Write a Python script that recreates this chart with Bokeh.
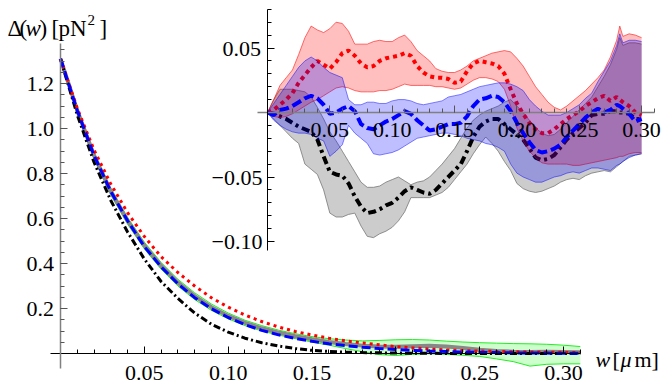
from bokeh.plotting import figure
from bokeh.models import (ColumnDataSource, FixedTicker, PrintfTickFormatter,
                          CustomJSTickFormatter, Range1d, Label, LinearAxis)
from bokeh.embed import file_html
from bokeh.resources import INLINE

FONT = "Liberation Serif"
W, H = 661, 390

# ---------------- main panel data ----------------
w_main = [0.00, 0.01, 0.02, 0.03, 0.04, 0.05, 0.06, 0.07, 0.08, 0.09,
          0.10, 0.11, 0.12, 0.13, 0.14, 0.15, 0.16, 0.17, 0.18, 0.19,
          0.20, 0.21, 0.22, 0.23, 0.24, 0.25, 0.26, 0.27, 0.28, 0.29,
          0.30, 0.31]
delta_data = [1.31, 1.08, 0.88, 0.72, 0.59, 0.48, 0.39, 0.315, 0.255, 0.206,
              0.167, 0.136, 0.112, 0.093, 0.077, 0.063, 0.051, 0.042, 0.035, 0.031,
              0.030, 0.032, 0.034, 0.031, 0.025, 0.017, 0.011, 0.008, 0.007, 0.008,
              0.007, 0.006]
band_hi = [1.31, 1.09, 0.895, 0.735, 0.605, 0.495, 0.405, 0.33, 0.27, 0.22,
           0.18, 0.148, 0.124, 0.104, 0.088, 0.075, 0.066, 0.060, 0.056, 0.058,
           0.061, 0.062, 0.060, 0.055, 0.051, 0.048, 0.046, 0.044, 0.043, 0.041,
           0.037, 0.031]
band_lo = [1.31, 1.07, 0.865, 0.705, 0.575, 0.465, 0.375, 0.30, 0.24, 0.192,
           0.154, 0.124, 0.100, 0.082, 0.066, 0.051, 0.037, 0.022, 0.008, -0.005,
           -0.009, -0.004, -0.001, -0.004, -0.008, -0.013, -0.024, -0.036, -0.056, -0.048,
           -0.046, -0.046]
fit_red = [1.31, 1.09, 0.905, 0.753, 0.626, 0.52, 0.43, 0.36, 0.30, 0.248,
           0.206, 0.171, 0.142, 0.118, 0.098, 0.082, 0.068, 0.056, 0.047, 0.039,
           0.030, 0.025, 0.020, 0.016, 0.013, 0.011, 0.009, 0.008, 0.007, 0.006,
           0.005, 0.005]
fit_blue = [1.31, 1.08, 0.88, 0.72, 0.59, 0.475, 0.385, 0.31, 0.248, 0.199,
            0.16, 0.128, 0.103, 0.083, 0.067, 0.054, 0.043, 0.035, 0.028, 0.022,
            0.018, 0.014, 0.011, 0.009, 0.007, 0.005, 0.004, 0.003, 0.002, 0.002,
            0.001, 0.001]
fit_black = [1.31, 1.06, 0.85, 0.68, 0.54, 0.42, 0.32, 0.245, 0.18, 0.13,
             0.095, 0.068, 0.048, 0.033, 0.022, 0.014, 0.009, 0.006, 0.004, 0.003,
             0.002, 0.001, 0.001, 0.0, 0.0, 0.0, 0.0, 0.0, 0.0, 0.0,
             0.0, 0.0]

main_xticks = [0.05, 0.10, 0.15, 0.20, 0.25, 0.30]
main_xminor = [0.01, 0.02, 0.03, 0.04, 0.05, 0.06, 0.07, 0.08, 0.09, 0.10,
               0.11, 0.12, 0.13, 0.14, 0.15, 0.16, 0.17, 0.18, 0.19, 0.20,
               0.21, 0.22, 0.23, 0.24, 0.25, 0.26, 0.27, 0.28, 0.29, 0.30, 0.31]
main_yticks = [0.2, 0.4, 0.6, 0.8, 1.0, 1.2]
main_yminor = [0.05, 0.10, 0.15, 0.20, 0.25, 0.30, 0.35, 0.40, 0.45, 0.50,
               0.55, 0.60, 0.65, 0.70, 0.75, 0.80, 0.85, 0.90, 0.95, 1.00,
               1.05, 1.10, 1.15, 1.20, 1.25, 1.30, 1.35]

# ---------------- inset data ----------------
w_in = [0.000, 0.005, 0.010, 0.015, 0.020, 0.025, 0.030, 0.035, 0.040, 0.045,
        0.050, 0.055, 0.060, 0.065, 0.070, 0.075, 0.080, 0.085, 0.090, 0.095,
        0.100, 0.105, 0.110, 0.115, 0.120, 0.125, 0.130, 0.135, 0.140, 0.145,
        0.150, 0.155, 0.160, 0.165, 0.170, 0.175, 0.180, 0.185, 0.190, 0.195,
        0.200, 0.205, 0.210, 0.215, 0.220, 0.225, 0.230, 0.235, 0.240, 0.245,
        0.250, 0.255, 0.260, 0.265, 0.270, 0.275, 0.280, 0.2825, 0.285, 0.290,
        0.295, 0.300]
red_mid = [0.000, 0.002, 0.006, 0.010, 0.015, 0.023, 0.029, 0.035, 0.040, 0.037,
           0.034, 0.039, 0.046, 0.048, 0.044, 0.038, 0.035, 0.036, 0.040, 0.042,
           0.043, 0.044, 0.046, 0.044, 0.036, 0.031, 0.028, 0.027, 0.027, 0.026,
           0.023, 0.024, 0.032, 0.038, 0.040, 0.039, 0.038, 0.036, 0.030, 0.018,
           0.007, -0.001, -0.008, -0.013, -0.016, -0.016, -0.013, -0.009, -0.005, -0.002,
           0.001, 0.005, 0.008, 0.011, 0.013, 0.009, 0.012, 0.010, 0.008, 0.005,
           0.000, -0.002]
red_hi = [0.000, 0.010, 0.021, 0.027, 0.033, 0.045, 0.058, 0.067, 0.064, 0.062,
          0.065, 0.070, 0.069, 0.063, 0.053, 0.053, 0.053, 0.055, 0.056, 0.055,
          0.055, 0.058, 0.060, 0.055, 0.048, 0.044, 0.040, 0.034, 0.032, 0.031,
          0.031, 0.033, 0.036, 0.040, 0.042, 0.044, 0.046, 0.047, 0.048, 0.047,
          0.042, 0.036, 0.028, 0.020, 0.014, 0.008, 0.004, 0.002, 0.005, 0.009,
          0.013, 0.017, 0.022, 0.027, 0.033, 0.043, 0.056, 0.067, 0.059, 0.061,
          0.060, 0.058]
red_lo = [0.000, -0.003, -0.004, -0.003, -0.001, 0.002, 0.005, 0.008, 0.010, 0.013,
          0.016, 0.019, 0.020, 0.019, 0.017, 0.016, 0.016, 0.016, 0.017, 0.017,
          0.018, 0.020, 0.022, 0.021, 0.021, 0.021, 0.021, 0.020, 0.020, 0.019,
          0.018, 0.019, 0.022, 0.025, 0.027, 0.027, 0.026, 0.024, 0.018, 0.005,
          -0.012, -0.022, -0.030, -0.035, -0.039, -0.040, -0.040, -0.040, -0.040, -0.041,
          -0.041, -0.040, -0.039, -0.038, -0.037, -0.036, -0.035, -0.034, -0.034, -0.032,
          -0.031, -0.031]
blue_mid = [0.000, -0.002, 0.002, 0.003, 0.005, 0.008, 0.011, 0.013, 0.011, 0.006,
            -0.001, 0.000, 0.003, 0.005, 0.001, -0.009, -0.012, -0.013, -0.010, -0.007,
            -0.005, -0.002, 0.001, -0.001, -0.006, -0.010, -0.014, -0.013, -0.011, -0.009,
            -0.009, -0.008, -0.003, 0.005, 0.010, 0.011, 0.013, 0.012, 0.008, 0.001,
            -0.008, -0.016, -0.023, -0.029, -0.031, -0.030, -0.028, -0.025, -0.019, -0.014,
            -0.009, -0.004, 0.000, 0.003, 0.000, 0.002, 0.006, 0.005, 0.003, -0.001,
            -0.007, -0.005]
blue_hi = [0.000, 0.007, 0.014, 0.021, 0.028, 0.035, 0.040, 0.043, 0.040, 0.035,
           0.031, 0.029, 0.027, 0.010, 0.006, 0.006, 0.008, 0.008, 0.007, 0.007,
           0.009, 0.010, 0.010, 0.009, 0.007, 0.006, 0.007, 0.008, 0.009, 0.012,
           0.013, 0.014, 0.016, 0.018, 0.020, 0.021, 0.022, 0.023, 0.023, 0.022,
           0.020, 0.017, 0.010, 0.005, 0.001, -0.002, -0.002, -0.002, 0.000, 0.003,
           0.006, 0.011, 0.015, 0.024, 0.032, 0.040, 0.052, 0.061, 0.054, 0.056,
           0.056, 0.055]
blue_lo = [0.000, -0.006, -0.010, -0.013, -0.015, -0.016, -0.016, -0.017, -0.020, -0.022,
           -0.034, -0.030, -0.025, -0.010, -0.016, -0.020, -0.024, -0.032, -0.033, -0.032,
           -0.031, -0.029, -0.026, -0.023, -0.020, -0.019, -0.018, -0.017, -0.016, -0.016,
           -0.017, -0.018, -0.020, -0.021, -0.022, -0.024, -0.025, -0.027, -0.030, -0.040,
           -0.047, -0.050, -0.052, -0.054, -0.054, -0.052, -0.050, -0.049, -0.047, -0.046,
           -0.047, -0.045, -0.043, -0.043, -0.044, -0.045, -0.041, -0.040, -0.038, -0.035,
           -0.033, -0.032]
black_mid = [0.000, -0.001, -0.003, -0.005, -0.008, -0.011, -0.013, -0.015, -0.021, -0.034,
             -0.046, -0.048, -0.049, -0.055, -0.065, -0.073, -0.078, -0.077, -0.075, -0.072,
             -0.070, -0.066, -0.061, -0.058, -0.060, -0.062, -0.063, -0.060, -0.055, -0.050,
             -0.045, -0.040, -0.030, -0.019, -0.011, -0.007, -0.005, -0.005, -0.009, -0.013,
             -0.017, -0.021, -0.028, -0.035, -0.037, -0.036, -0.033, -0.027, -0.021, -0.016,
             -0.012, -0.008, -0.002, -0.001, -0.001, 0.001, 0.001, 0.000, 0.000, -0.001,
             -0.005, -0.005]
gray_hi = [0.000, 0.010, 0.018, 0.018, 0.018, 0.017, 0.016, 0.012, 0.004, -0.005,
           -0.015, -0.022, -0.030, -0.038, -0.046, -0.054, -0.058, -0.058, -0.057, -0.054,
           -0.052, -0.050, -0.053, -0.056, -0.054, -0.053, -0.050, -0.045, -0.040, -0.034,
           -0.028, -0.020, -0.012, -0.006, -0.002, 0.001, 0.003, 0.005, 0.008, 0.010,
           0.005, 0.000, -0.006, -0.012, -0.016, -0.018, -0.017, -0.013, -0.008, -0.003,
           0.002, 0.007, 0.012, 0.020, 0.028, 0.037, 0.049, 0.058, 0.052, 0.054,
           0.054, 0.053]
gray_lo = [0.000, -0.005, -0.010, -0.015, -0.020, -0.024, -0.040, -0.044, -0.048, -0.060,
           -0.078, -0.081, -0.081, -0.079, -0.078, -0.088, -0.096, -0.097, -0.094, -0.092,
           -0.089, -0.084, -0.077, -0.066, -0.066, -0.066, -0.066, -0.064, -0.062, -0.058,
           -0.052, -0.046, -0.040, -0.032, -0.025, -0.019, -0.024, -0.030, -0.038, -0.045,
           -0.055, -0.059, -0.061, -0.062, -0.061, -0.059, -0.057, -0.054, -0.052, -0.051,
           -0.052, -0.049, -0.047, -0.046, -0.045, -0.046, -0.042, -0.040, -0.038, -0.034,
           -0.033, -0.032]

in_xticks = [0.05, 0.10, 0.15, 0.20, 0.25, 0.30]
in_xminor = [0.01, 0.02, 0.03, 0.04, 0.05, 0.06, 0.07, 0.08, 0.09, 0.10,
             0.11, 0.12, 0.13, 0.14, 0.15, 0.16, 0.17, 0.18, 0.19, 0.20,
             0.21, 0.22, 0.23, 0.24, 0.25, 0.26, 0.27, 0.28, 0.29, 0.30, 0.31]
in_yticks = [-0.10, -0.05, 0.05]
in_yminor = [-0.10, -0.09, -0.08, -0.07, -0.06, -0.05, -0.04, -0.03, -0.02, -0.01,
             0.01, 0.02, 0.03, 0.04, 0.05, 0.06, 0.07, 0.08]

# ---------------- one figure, main + inset (inset on extra ranges) ----------------
# The frame fills the whole canvas; every axis sits at a fixed data location.
p = figure(width=W, height=H, output_backend="svg", toolbar_location=None,
           x_range=Range1d(-0.035785, 0.358442), y_range=Range1d(-0.164444, 1.568889),
           x_axis_location="above", y_axis_location="right",
           min_border_left=0, min_border_right=0, min_border_top=0, min_border_bottom=0)
p.outline_line_color = None
p.grid.visible = False
p.extra_x_ranges = {"ix": Range1d(-0.214114, 0.315958)}
p.extra_y_ranges = {"iy": Range1d(-0.215504, 0.086822)}


def style_axis(ax, line_color, tick_color, line_width=1.0):
    ax.axis_line_color = line_color
    ax.axis_line_width = line_width
    ax.major_tick_line_color = tick_color
    ax.minor_tick_line_color = tick_color
    ax.major_label_text_font = FONT
    ax.major_label_text_font_size = "22px"
    ax.major_label_text_color = "black"


# main x axis (drawn at y = 0, labels pushed below the line)
xa = p.xaxis[0]
xa.fixed_location = 0
xa.bounds = (-0.006, 0.31)
xa.ticker = FixedTicker(ticks=main_xticks, minor_ticks=main_xminor)
xa.formatter = PrintfTickFormatter(format="%.2f")
xa.major_tick_in = 0
xa.major_tick_out = 7
xa.minor_tick_in = 0
xa.minor_tick_out = 4
xa.major_label_standoff = -33
style_axis(xa, "black", "black")

# main y axis (drawn at x = 0, labels pushed to the left of the line)
ya = p.yaxis[0]
ya.fixed_location = 0
ya.bounds = (-0.067, 1.378)
ya.ticker = FixedTicker(ticks=main_yticks, minor_ticks=main_yminor)
ya.formatter = PrintfTickFormatter(format="%.1f")
ya.major_tick_in = 0
ya.major_tick_out = 7
ya.minor_tick_in = 0
ya.minor_tick_out = 4
ya.major_label_standoff = -41
style_axis(ya, "#808080", "#555555", 1.5)

fmt_js = ("const s = Math.abs(tick).toFixed(2);"
          " return tick < 0 ? '\u2212' + s : '\u2002' + s;")

# inset x axis
ix = LinearAxis(x_range_name="ix", y_range_name="iy", fixed_location=0,
                bounds=(-0.008, 0.31),
                ticker=FixedTicker(ticks=in_xticks, minor_ticks=in_xminor),
                formatter=CustomJSTickFormatter(code=fmt_js.replace("'\u2002' + s", "s")),
                major_tick_in=0, major_tick_out=7, minor_tick_in=0, minor_tick_out=4,
                major_label_standoff=-31)
style_axis(ix, "#808080", "#555555", 1.5)
p.add_layout(ix, "above")

# inset y axis
iy = LinearAxis(x_range_name="ix", y_range_name="iy", fixed_location=0,
                bounds=(-0.107, 0.08),
                ticker=FixedTicker(ticks=in_yticks, minor_ticks=in_yminor),
                formatter=CustomJSTickFormatter(code=fmt_js),
                major_tick_in=0, major_tick_out=7, minor_tick_in=0, minor_tick_out=4,
                major_label_standoff=-63)
style_axis(iy, "black", "black")
p.add_layout(iy, "right")

# ---- main curves ----
msrc = ColumnDataSource(dict(w=w_main, data=delta_data, hi=band_hi, lo=band_lo,
                             red=fit_red, blue=fit_blue, black=fit_black))
p.varea(x="w", y1="lo", y2="hi", source=msrc, fill_color="#ccffcc", fill_alpha=1.0)
p.line(x="w", y="hi", source=msrc, line_color="#22ee22", line_width=1)
p.line(x="w", y="lo", source=msrc, line_color="#22ee22", line_width=1)
p.line(x="w", y="data", source=msrc, line_color="#888888", line_width=4)
p.line(x="w", y="black", source=msrc, line_color="black", line_width=3, line_dash="7 3 2 3")
p.line(x="w", y="red", source=msrc, line_color="#ff0000", line_width=3, line_dash="3 4")
p.line(x="w", y="blue", source=msrc, line_color="#0000ff", line_width=3, line_dash="9 4")

# ---- inset curves ----
isrc = ColumnDataSource(dict(w=w_in, rm=red_mid, rh=red_hi, rl=red_lo,
                             bm=blue_mid, bh=blue_hi, bl=blue_lo,
                             km=black_mid, gh=gray_hi, gl=gray_lo))
R = dict(source=isrc, x_range_name="ix", y_range_name="iy")
p.varea(x="w", y1="gl", y2="gh", fill_color="#7f7f7f", fill_alpha=0.4, **R)
p.line(x="w", y="gh", line_color="#777777", line_width=0.8, **R)
p.line(x="w", y="gl", line_color="#777777", line_width=0.8, **R)
p.line(x="w", y="km", line_color="black", line_width=4, line_dash="8 4 3 4", **R)
p.varea(x="w", y1="rl", y2="rh", fill_color="#ff0000", fill_alpha=0.25, **R)
p.line(x="w", y="rh", line_color="#ff0000", line_width=0.8, line_alpha=0.7, **R)
p.line(x="w", y="rl", line_color="#ff0000", line_width=0.8, line_alpha=0.7, **R)
p.line(x="w", y="rm", line_color="#ff0000", line_width=4, line_dash="4 4", **R)
p.varea(x="w", y1="bl", y2="bh", fill_color="#0000ff", fill_alpha=0.25, **R)
p.line(x="w", y="bh", line_color="#0000ff", line_width=0.8, line_alpha=0.6, **R)
p.line(x="w", y="bl", line_color="#0000ff", line_width=0.8, line_alpha=0.6, **R)
p.line(x="w", y="bm", line_color="#0000ff", line_width=4, line_dash="10 4", **R)


def add_text(fig, x, y, parts):
    for txt, dx, dy, style, size in parts:
        fig.add_layout(Label(x=x, y=y, x_offset=dx, y_offset=dy, text=txt,
                             text_font=FONT, text_font_style=style, text_font_size=size,
                             text_color="black", text_baseline="alphabetic",
                             text_align="left"))


add_text(p, -0.03161, 1.4444, [
    ("Δ", 0, 0, "normal", "23px"),
    ("(", 12, 0, "normal", "23px"),
    ("w", 18, 0, "italic", "23px"),
    (")", 32, 0, "normal", "23px"),
    ("[", 44, 0, "normal", "23px"),
    ("pN", 51, 0, "normal", "23px"),
    ("2", 80, 9, "normal", "15px"),
    ("]", 92, 0, "normal", "23px"),
])
add_text(p, 0.31907, -0.02667, [
    ("w", 0, 0, "italic", "22px"),
    ("[", 17, 0, "normal", "22px"),
    ("μ", 25, 0, "italic", "22px"),
    ("m]", 39, 0, "normal", "22px"),
])

open("out.html", "w").write(file_html(p, INLINE))
